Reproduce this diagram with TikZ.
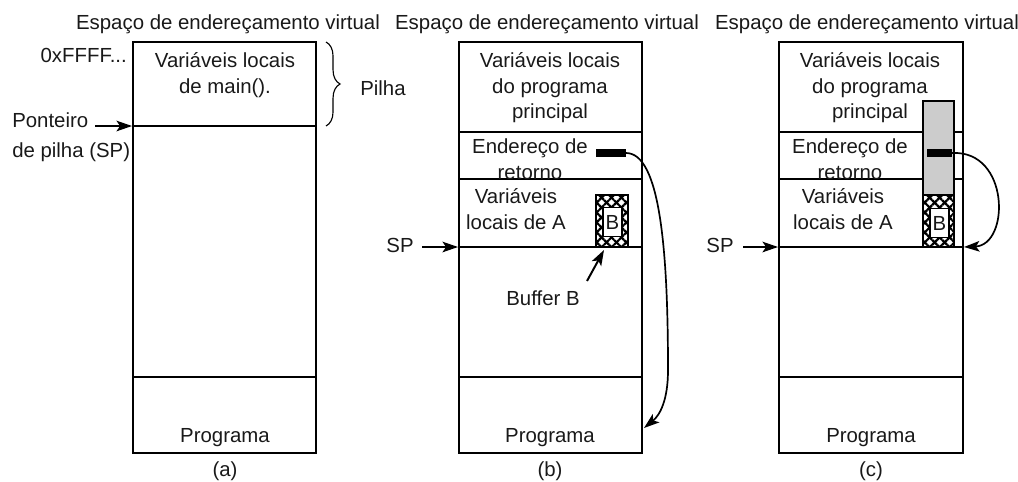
\documentclass[tikz,border=0pt]{standalone}
\usepackage{fontspec}
\setmainfont{Liberation Sans}
\usetikzlibrary{calc,arrows.meta,positioning,patterns.meta,decorations.pathreplacing}

\begin{document}
\begin{tikzpicture}[x=0.025cm, y=-0.025cm,
 every node/.style={font=\fontsize{14.5}{18.1}\selectfont, inner sep=0pt, text=black!90},
 frame/.style={line width=1.5pt},
 sep/.style={line width=1.2pt},
 arr/.style={-{Stealth[length=11pt,width=7.5pt,inset=2.5pt]}, line width=1.4pt},
 ret/.style={-{Stealth[length=11pt,width=7.5pt,inset=2.5pt]}, line width=1.2pt},
 hatchl/.style={pattern={Lines[angle=45,distance=5pt,line width=1.6pt]}},
 hatchr/.style={pattern={Lines[angle=-45,distance=5pt,line width=1.6pt]}},
 bufbox/.style={draw, line width=0.9pt, fill=white, minimum width=0.475cm, minimum height=0.72cm}]

 \useasboundingbox (0,0) rectangle (1018,481);

 % titles
 \node[anchor=base] (tita) at (228,29) {Espaço de endereçamento virtual};
 \node[anchor=base] (titb) at (547,29) {Espaço de endereçamento virtual};
 \node[anchor=base] (titc) at (867,29) {Espaço de endereçamento virtual};

 % --- (a) ---
 \draw[frame] (133,42) rectangle (316,453);
 \draw[sep] (133,126) -- (316,126);
 \draw[sep] (133,377) -- (316,377);

 \node[anchor=north, align=center] (mainvar) at (225,52.5) {Variáveis locais\\de main().};
 \node[anchor=base east] (topaddr) at (127,62) {0xFFFF...};
 \node[anchor=north west, align=left] (ptr) at (12,112.5) {Ponteiro\\[3pt]de pilha (SP)};
 \coordinate (spa0) at (95,126);
 \coordinate (spa) at (132,126);
 \draw[arr] (spa0) -- (spa);

 \draw[line width=0.8pt, decorate, decoration={brace, amplitude=10pt}] (326,42) -- (326,126);
 \node[anchor=base west] (pilha) at (360,95) {Pilha};

 \node[anchor=base] (proga) at (225,442) {Programa};
 \node[anchor=base] (capa) at (225,476) {(a)};

 % --- (b) ---
 \draw[frame] (459,42) rectangle (642,453);
 \draw[sep] (459,132) -- (642,132);
 \draw[sep] (459,179) -- (642,179);
 \draw[sep] (459,247) -- (642,247);
 \draw[sep] (459,377) -- (642,377);

 \node[anchor=north, align=center] (mainb) at (550,52.5) {Variáveis locais\\do programa\\principal};
 \node[anchor=north, align=center] (endb) at (530,138.5) {Endereço de\\retorno};
 \node[anchor=north, align=center] (varb) at (516,188.5) {Variáveis\\locais de A};

 % buffer B
 \fill[white] (596,195) rectangle (628,247);
 \path[hatchl] (596,195) rectangle (628,247);
 \path[hatchr] (596,195) rectangle (628,247);
 \draw[line width=1.1pt] (596,195) rectangle (628,247);
 \node[bufbox] (bufb) at (612.5,222) {B};

 % return address
 \fill (596,149) rectangle (626,157);
 \coordinate (retb) at (626,153);
 \coordinate (progb) at (644,428);
 \draw[ret] (retb) .. controls (660,153) and (668,250) .. (668,370)
       .. controls (668,400) and (660,415) .. (progb);

 \node[anchor=base] (spb) at (400,252) {SP};
 \coordinate (spb0) at (422,247);
 \coordinate (spbx) at (458,247);
 \draw[arr] (spb0) -- (spbx);

 \node[anchor=base] (lblb) at (543,305) {Buffer B};
 \coordinate (lblb0) at (587,281);
 \coordinate (bufbx) at (604,250);
 \draw[arr] (lblb0) -- (bufbx);

 \node[anchor=base] (progtb) at (550,442) {Programa};
 \node[anchor=base] (capb) at (550,476) {(b)};

 % --- (c) ---
 \draw[frame] (779,42) rectangle (963,453);
 \draw[sep] (779,132) -- (963,132);
 \draw[sep] (779,179) -- (963,179);
 \draw[sep] (779,247) -- (963,247);
 \draw[sep] (779,377) -- (963,377);

 \node[anchor=north, align=center] (mainc) at (870,52.5) {Variáveis locais\\do programa\\principal};
 \node[anchor=north, align=center] (endc) at (850,138.5) {Endereço de\\retorno};
 \node[anchor=north, align=center] (varc) at (843,188.5) {Variáveis\\locais de A};

 % overflowed buffer
 \fill[gray!40] (923,101) rectangle (954,195);
 \fill[white] (923,195) rectangle (954,247);
 \path[hatchl] (923,195) rectangle (954,247);
 \path[hatchr] (923,195) rectangle (954,247);
 \draw[line width=1.1pt] (923,101) rectangle (954,247);
 \draw[line width=1.1pt] (923,195) -- (954,195);
 \node[bufbox] (bufc) at (939.5,223) {B};

 \fill (927,149) rectangle (952,157);
 \coordinate (retc) at (952,153);
 \coordinate (spcx) at (964,247);
 \draw[ret] (retc) .. controls (1010,150) and (1010,245) .. (spcx);

 \node[anchor=base] (spc) at (720,252) {SP};
 \coordinate (spc0) at (743,247);
 \coordinate (spcl) at (778,247);
 \draw[arr] (spc0) -- (spcl);

 \node[anchor=base] (progtc) at (871,442) {Programa};
 \node[anchor=base] (capc) at (871,476) {(c)};

\end{tikzpicture}
\end{document}
